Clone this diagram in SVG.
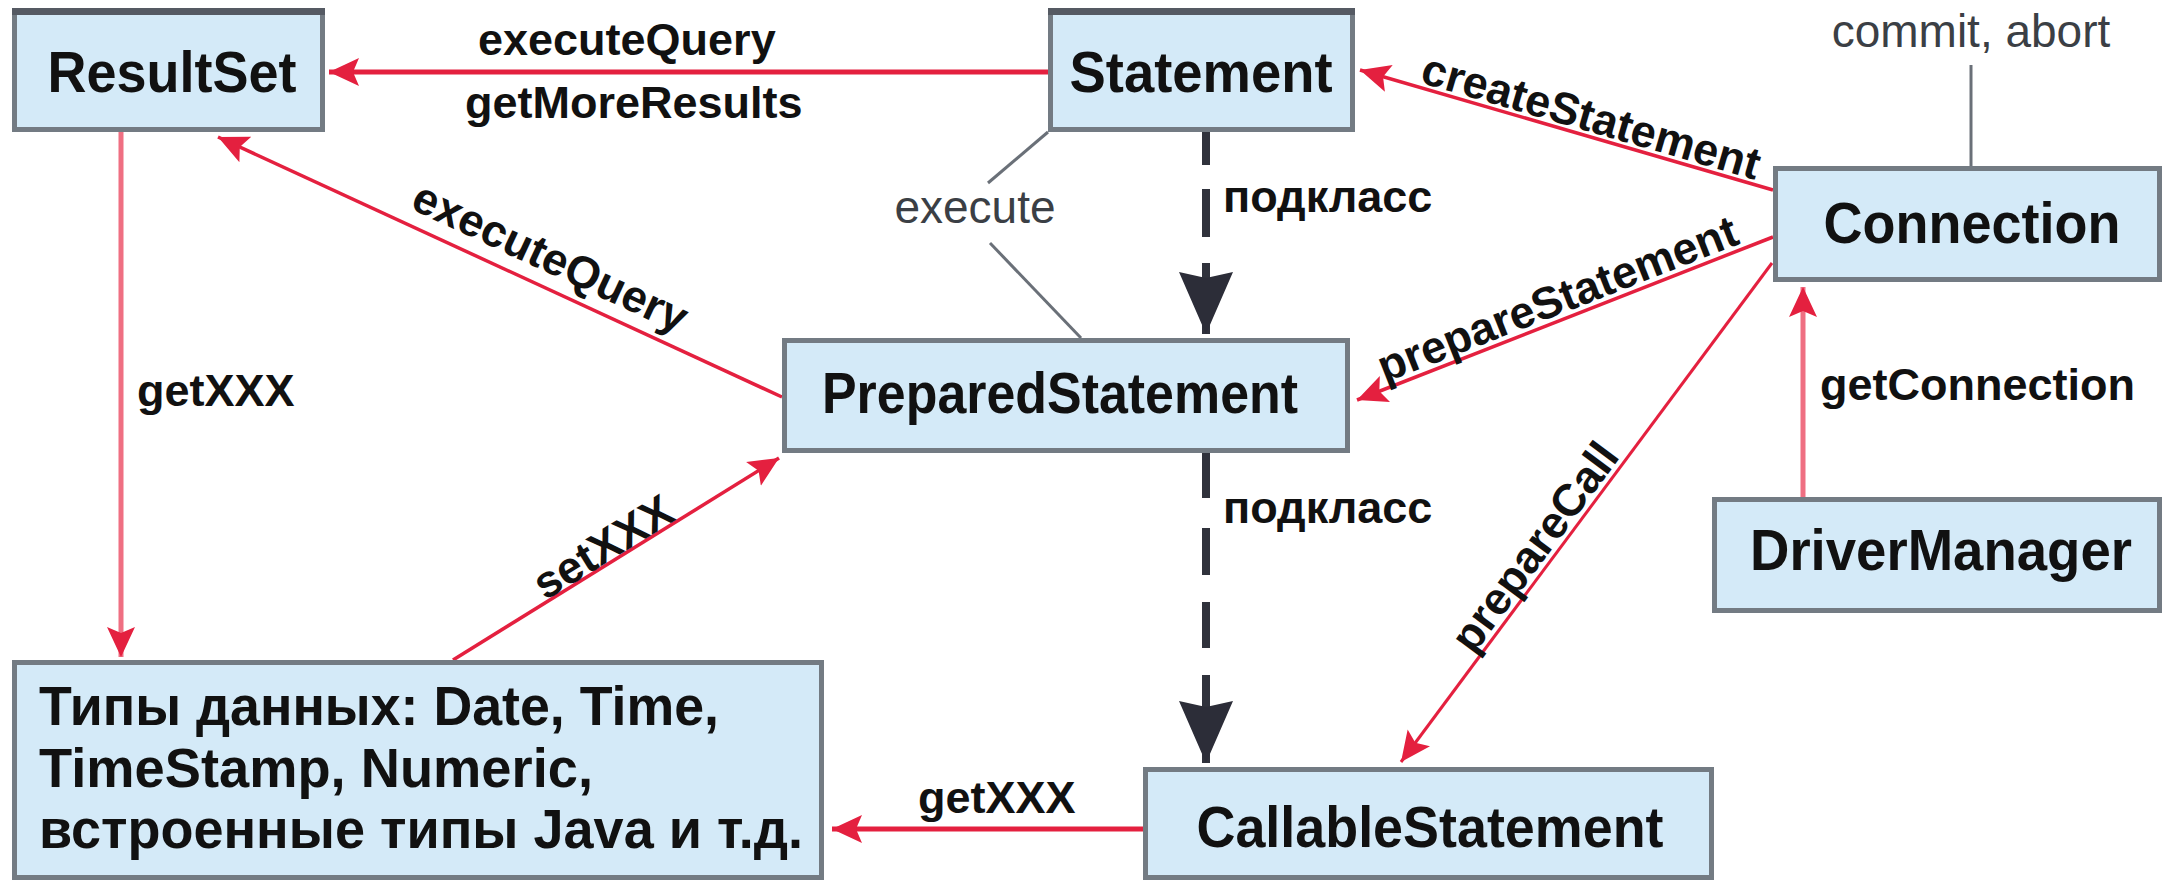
<svg xmlns="http://www.w3.org/2000/svg" width="2164" height="882" viewBox="0 0 2164 882">
<style>
.box{fill:#d4eaf8;stroke:#737b83;stroke-width:5}
.band{fill:#555a63}
.nl{font-family:"Liberation Sans",Arial,sans-serif;font-weight:bold;font-size:58px;fill:#111;text-anchor:middle}
.tl{font-family:"Liberation Sans",Arial,sans-serif;font-weight:bold;font-size:56px;fill:#111}
.lb{font-family:"Liberation Sans",Arial,sans-serif;font-weight:bold;font-size:45px;fill:#111}
.lr{font-family:"Liberation Sans",Arial,sans-serif;font-size:46px;fill:#3b3f45}
.red{fill:none;stroke:#e4203f}
.pink{fill:none;stroke:#ef6f82;stroke-width:5}
.dash{fill:none;stroke:#30323c;stroke-width:8}
.gray{fill:none;stroke:#6a7078;stroke-width:3}
</style>
<defs>
<marker id="ar" markerUnits="userSpaceOnUse" markerWidth="32" markerHeight="30" refX="30" refY="15" orient="auto">
<path d="M0,1 L30,15 L0,29 L6,15 Z" fill="#e4203f"/>
</marker>
<marker id="ap" markerUnits="userSpaceOnUse" markerWidth="32" markerHeight="30" refX="30" refY="15" orient="auto">
<path d="M0,1 L30,15 L0,29 L6,15 Z" fill="#e4203f"/>
</marker>
<marker id="ad" markerUnits="userSpaceOnUse" markerWidth="64" markerHeight="56" refX="62" refY="27" orient="auto">
<path d="M0,0 L62,27 L0,54 L6,27 Z" fill="#2c2d38"/>
</marker>
</defs>

<g id="connectors">
<line class="red" stroke-width="5" x1="1048" y1="72" x2="329" y2="72" marker-end="url(#ar)"/>
<line class="red" stroke-width="3.5" x1="782" y1="397" x2="218" y2="137" marker-end="url(#ar)"/>
<line class="pink" x1="121" y1="132" x2="121" y2="657" marker-end="url(#ap)"/>
<line class="red" stroke-width="3.5" x1="453" y1="660" x2="779" y2="458" marker-end="url(#ar)"/>
<line class="red" stroke-width="5" x1="1143" y1="829" x2="832" y2="829" marker-end="url(#ar)"/>
<line class="dash" x1="1206" y1="132" x2="1206" y2="334" stroke-dasharray="33 24 48 26 300" marker-end="url(#ad)"/>
<line class="dash" x1="1206" y1="453" x2="1206" y2="763" stroke-dasharray="45 30 47 27 46 27 300" marker-end="url(#ad)"/>
<line class="red" stroke-width="3.5" x1="1773" y1="190" x2="1360" y2="70" marker-end="url(#ar)"/>
<line class="red" stroke-width="3.5" x1="1773" y1="237" x2="1357" y2="400" marker-end="url(#ar)"/>
<line class="red" stroke-width="3" x1="1772" y1="263" x2="1401" y2="762" marker-end="url(#ar)"/>
<line class="pink" x1="1803" y1="497" x2="1803" y2="287" marker-end="url(#ap)"/>
<line class="gray" x1="1971" y1="65" x2="1971" y2="166"/>
<line class="gray" stroke-width="2.5" x1="1048" y1="132" x2="988" y2="183"/>
<line class="gray" stroke-width="2.5" x1="990" y1="243" x2="1081" y2="338"/>

<text class="lb" x="478" y="55">executeQuery</text>
<text class="lb" x="465" y="118">getMoreResults</text>
<text class="lb" x="544" y="271" text-anchor="middle" transform="rotate(25 544 271)">executeQuery</text>
<text class="lb" x="137" y="406">getXXX</text>
<text class="lb" x="611" y="560" text-anchor="middle" transform="rotate(-31.8 611 560)">setXXX</text>
<text class="lb" x="918" y="813">getXXX</text>
<text class="lb" x="1223" y="212">подкласс</text>
<text class="lb" x="1223" y="523">подкласс</text>
<text class="lb" x="1587" y="131" text-anchor="middle" transform="rotate(16.2 1587 131)">createStatement</text>
<text class="lb" x="1563" y="313" text-anchor="middle" transform="rotate(-21.4 1563 313)">prepareStatement</text>
<text class="lb" x="1547" y="556" text-anchor="middle" transform="rotate(-53.4 1547 556)">prepareCall</text>
<text class="lb" x="1820" y="400">getConnection</text>
<text class="lr" x="975" y="223" text-anchor="middle">execute</text>
<text class="lr" x="1971" y="47" text-anchor="middle">commit, abort</text>
</g>

<g id="resultset">
<rect class="box" x="14.5" y="10.5" width="308" height="119"/>
<rect class="band" x="12" y="8" width="313" height="7"/>
<text class="nl" x="172" y="92" textLength="249" lengthAdjust="spacingAndGlyphs">ResultSet</text>
</g>
<g id="statement">
<rect class="box" x="1050.5" y="10.5" width="302" height="119"/>
<rect class="band" x="1048" y="8" width="307" height="7"/>
<text class="nl" x="1201" y="92" textLength="263" lengthAdjust="spacingAndGlyphs">Statement</text>
</g>
<g id="connection">
<rect class="box" x="1775.5" y="168.5" width="384" height="111"/>
<text class="nl" x="1972" y="243" textLength="297" lengthAdjust="spacingAndGlyphs">Connection</text>
</g>
<g id="preparedstatement">
<rect class="box" x="784.5" y="340.5" width="563" height="110"/>
<text class="nl" x="1060" y="413" textLength="476" lengthAdjust="spacingAndGlyphs">PreparedStatement</text>
</g>
<g id="drivermanager">
<rect class="box" x="1714.5" y="499.5" width="445" height="111"/>
<text class="nl" x="1941" y="570" textLength="382" lengthAdjust="spacingAndGlyphs">DriverManager</text>
</g>
<g id="datatypes">
<rect class="box" x="14.5" y="662.5" width="807" height="215"/>
<text class="tl" x="39" y="725" textLength="680" lengthAdjust="spacingAndGlyphs">Типы данных: Date, Time,</text>
<text class="tl" x="39" y="787" textLength="554" lengthAdjust="spacingAndGlyphs">TimeStamp, Numeric,</text>
<text class="tl" x="39" y="848" textLength="764" lengthAdjust="spacingAndGlyphs">встроенные типы Java и т.д.</text>
</g>
<g id="callablestatement">
<rect class="box" x="1145.5" y="769.5" width="566" height="108"/>
<text class="nl" x="1430" y="847" textLength="467" lengthAdjust="spacingAndGlyphs">CallableStatement</text>
</g>
</svg>
